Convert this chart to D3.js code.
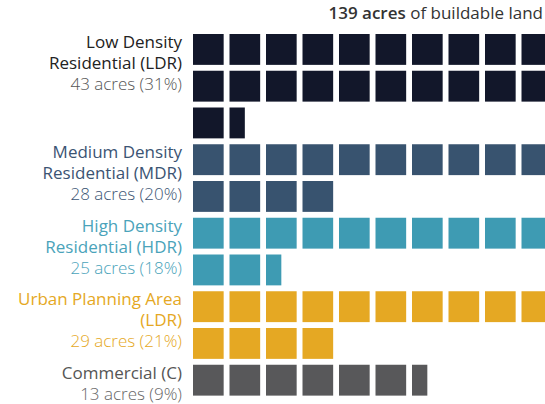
<!DOCTYPE html>
<html>
<head>
<meta charset="utf-8">
<script src="https://cdn.jsdelivr.net/npm/d3@7"></script>
<style>
  html, body { margin: 0; padding: 0; background: #fff; }
  svg { display: block; font-family: "Open Sans", Lato, sans-serif; }
</style>
</head>
<body>
<svg id="chart" width="545" height="404"></svg>
<script>
// Land-use categories (label lines), acres and share
const nameLines = [
  ["Low Density", "Residential (LDR)"],
  ["Medium Density", "Residential (MDR)"],
  ["High Density", "Residential (HDR)"],
  ["Urban Planning Area", "(LDR)"],
  ["Commercial (C)"],
];
const acres = [43, 28, 25, 29, 13];
const shares = [31, 20, 18, 21, 9];
// squares drawn per category (one square ~ 2 acres, rounded to half squares)
const blocks = [21.5, 14, 12.5, 14, 6.5];
const totalAcres = 139;

const fills = ["#12172a", "#38536f", "#3e9bb3", "#e5a823", "#58585a"];
const nameColors = ["#222222", "#3b5473", "#4aa3ba", "#e5a823", "#555555"];
const subColors = ["#555555", "#3b5473", "#4aa3ba", "#e5a823", "#666666"];

const perRow = 10;

const svg = d3.select("#chart");

// title
const title = svg.append("text")
  .attr("x", 543)
  .attr("y", 19)
  .attr("text-anchor", "end")
  .attr("font-size", 17)
  .attr("fill", "#333");
title.append("tspan").attr("font-weight", 600).text(`${totalAcres} acres`);
title.append("tspan").text(" of buildable land");

// rows per category
const groups = [];
let rowCursor = 0;
blocks.forEach((b, i) => {
  const rows = Math.ceil(b / perRow);
  groups.push({ i, start: rowCursor, rows, blocks: b });
  rowCursor += rows;
});

const y = d3.scaleBand()
  .domain(d3.range(rowCursor))
  .range([34, 34 + 36.75 * (rowCursor - 0.16)])
  .paddingInner(0.16)
  .paddingOuter(0);

const x = d3.scaleBand()
  .domain(d3.range(perRow))
  .range([193, 193 + 36.5 * (perRow - 0.16)])
  .paddingInner(0.16)
  .paddingOuter(0);

// one cell object per square
const cells = [];
groups.forEach((g) => {
  const full = Math.floor(g.blocks);
  const part = g.blocks - full;
  const n = Math.ceil(g.blocks);
  for (let k = 0; k < n; k++) {
    cells.push({
      cat: g.i,
      row: g.start + Math.floor(k / perRow),
      col: k % perRow,
      frac: k < full ? 1 : part,
    });
  }
});

svg.append("g")
  .selectAll("rect")
  .data(cells)
  .join("rect")
  .attr("x", (d) => x(d.col))
  .attr("y", (d) => y(d.row))
  .attr("width", (d) => x.bandwidth() * d.frac)
  .attr("height", y.bandwidth())
  .attr("fill", (d) => fills[d.cat]);

// labels
const lineH = 21;
const labels = svg.append("g")
  .selectAll("text")
  .data(groups)
  .join("text")
  .attr("text-anchor", "end")
  .attr("font-size", 17)
  .attr("transform", (g) => `translate(182,${y(g.start) + 14})`);

labels.each(function (g) {
  const t = d3.select(this);
  nameLines[g.i].forEach((line, j) => {
    t.append("tspan")
      .attr("x", 0)
      .attr("y", j * lineH)
      .attr("fill", nameColors[g.i])
      .text(line);
  });
  t.append("tspan")
    .attr("x", 0)
    .attr("y", nameLines[g.i].length * lineH)
    .attr("fill", subColors[g.i])
    .attr("font-weight", 300)
    .text(`${acres[g.i]} acres (${shares[g.i]}%)`);
});
</script>
</body>
</html>
